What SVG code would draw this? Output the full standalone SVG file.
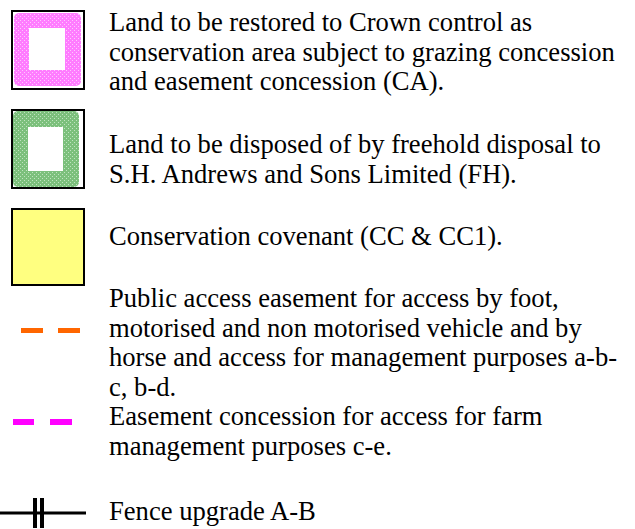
<svg xmlns="http://www.w3.org/2000/svg" width="635" height="529" viewBox="0 0 635 529">
<defs>
<pattern id="pinkPat" width="4" height="4" patternUnits="userSpaceOnUse">
<rect width="4" height="4" fill="#FF7CFF"/>
<rect x="0" y="0" width="1" height="1" fill="#FFC8FF"/>
<rect x="2" y="2" width="1" height="1" fill="#FFC8FF"/>
</pattern>
<pattern id="greenPat" width="4" height="4" patternUnits="userSpaceOnUse">
<rect width="4" height="4" fill="#7CC07C"/>
<rect x="0" y="0" width="1" height="1" fill="#C0E4C0"/>
<rect x="2" y="2" width="1" height="1" fill="#C0E4C0"/>
</pattern>
<style>
.box{fill:none;stroke:#000;stroke-width:2}
</style>
</defs>
<g font-family="'Liberation Serif', 'Times New Roman', 'DejaVu Serif', serif" font-size="26.6" fill="#000">
<g id="legend-ca">
<rect x="14" y="13" width="67" height="73" rx="5" fill="url(#pinkPat)"/>
<rect x="29" y="28" width="36" height="42" fill="#fff"/>
<rect class="box" x="12" y="11" width="72" height="78"/>
<text x="109" y="31">Land to be restored to Crown control as</text>
<text x="109" y="61">conservation area subject to grazing concession</text>
<text x="109" y="90">and easement concession (CA).</text>
</g>
<g id="legend-fh">
<rect x="13" y="111" width="66" height="76" rx="5" fill="url(#greenPat)"/>
<rect x="28" y="127" width="35" height="44" fill="#fff"/>
<rect class="box" x="12" y="110" width="72" height="78"/>
<text x="109" y="153">Land to be disposed of by freehold disposal to</text>
<text x="109" y="183">S.H. Andrews and Sons Limited (FH).</text>
</g>
<g id="legend-cc">
<rect x="12" y="209" width="72" height="76" fill="#FFFF80" stroke="#000" stroke-width="2"/>
<text x="109" y="245">Conservation covenant (CC &amp; CC1).</text>
</g>
<g id="legend-public">
<rect x="21" y="328" width="22" height="5" fill="#FF6600"/>
<rect x="58" y="328" width="22" height="5" fill="#FF6600"/>
<text x="109" y="307">Public access easement for access by foot,</text>
<text x="109" y="336.5">motorised and non motorised vehicle and by</text>
<text x="109" y="366">horse and access for management purposes a-b-</text>
<text x="109" y="395.5">c, b-d.</text>
</g>
<g id="legend-easement">
<rect x="13" y="419" width="21" height="6" fill="#FF00FF"/>
<rect x="50" y="419" width="22" height="6" fill="#FF00FF"/>
<text x="109" y="425">Easement concession for access for farm</text>
<text x="109" y="455">management purposes c-e.</text>
</g>
<g id="legend-fence">
<rect x="0" y="511.5" width="86" height="3" fill="#000"/>
<rect x="33" y="498" width="4" height="30" fill="#000"/>
<rect x="40" y="498" width="4" height="30" fill="#000"/>
<text x="109" y="520">Fence upgrade A-B</text>
</g>
</g>
<g id="connectors"></g>
</svg>
